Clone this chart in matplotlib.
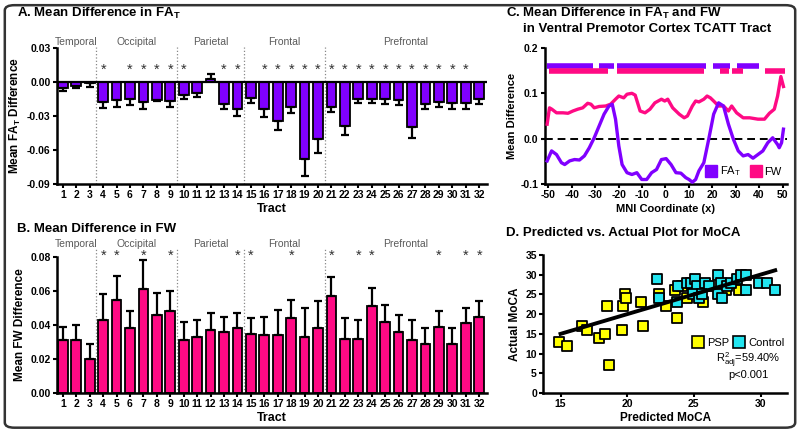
import numpy as np
import matplotlib.pyplot as plt
from matplotlib.patches import FancyBboxPatch
from matplotlib.lines import Line2D

plt.rcParams['font.family'] = ['Liberation Sans', 'DejaVu Sans']
plt.rcParams['mathtext.fontset'] = 'custom'
plt.rcParams['mathtext.rm'] = 'Liberation Sans'
plt.rcParams['mathtext.bf'] = 'Liberation Sans:bold'
plt.rcParams['mathtext.default'] = 'regular'
plt.rcParams['axes.unicode_minus'] = False

# ---- data ----
tracts = np.arange(1, 33)
regions = ['Temporal', 'Occipital', 'Parietal', 'Frontal', 'Prefrontal']
region_start = [1, 4, 10, 15, 21]
region_end = [3, 9, 14, 20, 32]

fa_mean = [-0.005, -0.0035, -0.001, -0.0176, -0.016, -0.0153, -0.0176, -0.0156,
           -0.0168, -0.0118, -0.0094, 0.003, -0.0194, -0.0238, -0.0138, -0.0238,
           -0.034, -0.022, -0.068, -0.0506, -0.0218, -0.0388, -0.0147, -0.015,
           -0.015, -0.016, -0.040, -0.0197, -0.0174, -0.0182, -0.0182, -0.0153]
fa_err = [0.003, 0.002, 0.003, 0.005, 0.006, 0.005, 0.006, 0.001,
          0.005, 0.003, 0.004, 0.004, 0.004, 0.0065, 0.005, 0.007,
          0.008, 0.005, 0.015, 0.012, 0.005, 0.008, 0.0035, 0.0035,
          0.004, 0.0045, 0.009, 0.0045, 0.005, 0.0056, 0.0053, 0.0044]
fa_stars = [4, 6, 7, 8, 9, 10, 13, 14, 16, 17, 18, 19, 20, 21, 22, 23, 24, 25,
            26, 27, 28, 29, 30, 31]

fw_mean = [0.031, 0.031, 0.020, 0.043, 0.055, 0.038, 0.061, 0.046,
           0.048, 0.031, 0.033, 0.037, 0.036, 0.038, 0.035, 0.034,
           0.034, 0.044, 0.033, 0.038, 0.057, 0.032, 0.032, 0.051,
           0.042, 0.036, 0.031, 0.029, 0.039, 0.029, 0.041, 0.045]
fw_err = [0.008, 0.009, 0.009, 0.015, 0.014, 0.010, 0.017, 0.013,
          0.012, 0.011, 0.010, 0.010, 0.009, 0.009, 0.009, 0.011,
          0.015, 0.011, 0.017, 0.016, 0.011, 0.012, 0.011, 0.011,
          0.010, 0.010, 0.012, 0.009, 0.009, 0.009, 0.009, 0.009]
fw_stars = [4, 5, 7, 9, 14, 15, 18, 21, 23, 24, 29, 31, 32]

# panel C: profile along the tract
mni_x = [-50.5, -49.5, -48.5, -46.5, -43.7, -41.6, -39.5, -37.4, -35.3, -33.2,
         -31.8, -30.4, -28.3, -25.5, -23.4, -21.3, -19.9, -17.8, -16.4, -14.3,
         -12.9, -10.8, -8.7, -6.6, -4.5, -1.7, -0.3, 1.0, 3.1, 5.9,
         8.0, 9.4, 11.5, 12.9, 14.3, 16.4, 17.8, 19.2, 20.6, 22.7,
         24.8, 26.9, 28.3, 30.4, 33.2, 36.0, 39.5, 42.3, 44.4, 46.5,
         47.9, 49.3, 50.4]
fw_profile = [0.032, 0.068, 0.065, 0.057, 0.057, 0.056, 0.061, 0.065, 0.068, 0.078,
              0.076, 0.068, 0.071, 0.072, 0.076, 0.087, 0.094, 0.090, 0.098, 0.100,
              0.096, 0.061, 0.057, 0.065, 0.079, 0.087, 0.083, 0.087, 0.068, 0.054,
              0.046, 0.050, 0.072, 0.083, 0.081, 0.087, 0.094, 0.090, 0.083, 0.072,
              0.072, 0.061, 0.072, 0.057, 0.046, 0.046, 0.043, 0.043, 0.056, 0.065,
              0.094, 0.137, 0.115]
fa_x = [-50.5, -48.6, -46.5, -44.4, -43.0, -40.9, -38.8, -36.7, -34.6, -32.5,
        -30.4, -28.3, -26.2, -24.1, -22.7, -21.3, -19.9, -18.5, -16.4, -14.3,
        -12.2, -10.1, -8.0, -5.9, -3.8, -1.7, 0.3, 2.4, 4.5, 6.6,
        8.7, 10.1, 11.5, 12.9, 14.3, 16.4, 18.5, 20.6, 22.7, 24.8,
        26.9, 29.0, 31.1, 33.2, 35.3, 37.4, 39.5, 41.6, 43.7, 45.8,
        47.9, 48.6, 49.6, 50.4]
fa_profile = [-0.049, -0.027, -0.035, -0.053, -0.057, -0.049, -0.046, -0.047, -0.038, -0.020,
              0.002, 0.028, 0.054, 0.072, 0.076, 0.043, -0.016, -0.057, -0.075, -0.079,
              -0.075, -0.090, -0.090, -0.075, -0.068, -0.046, -0.044, -0.057, -0.075, -0.076,
              -0.086, -0.090, -0.096, -0.090, -0.071, -0.053, -0.001, 0.054, 0.079, 0.072,
              0.032, -0.001, -0.027, -0.038, -0.035, -0.043, -0.035, -0.027, -0.009, 0.002,
              -0.013, -0.020, -0.009, 0.021]
fa_sig_start = [-50.5, -28.5, -20.5, 20.5, 30.5]
fa_sig_end = [-31.0, -22.0, 17.5, 27.5, 40.0]
fw_sig_start = [-49.5, -20.5, 23.5, 28.5, 42.5]
fw_sig_end = [-24.5, 16.5, 27.0, 33.0, 51.0]

# panel D: predicted vs actual MoCA
psp_pred = [14.9, 15.5, 16.6, 17.0, 17.9, 18.3, 18.5, 18.6, 19.6, 19.7, 19.8, 19.9,
            21.0, 21.2, 22.4, 22.9, 23.6, 23.7, 24.1, 24.5, 25.3, 25.7, 27.4, 28.4]
psp_actual = [13, 12, 17, 16, 14, 15, 22, 7, 16, 22, 25, 24,
              23, 17, 25, 22, 26, 19, 27, 24, 26, 23, 26, 26]
ctl_pred = [22.2, 22.4, 23.7, 23.8, 24.5, 24.8, 25.1, 25.2, 24.9, 25.4, 25.8, 26.1, 25.6,
            26.8, 26.8, 27.0, 27.1, 27.5, 27.8, 28.2, 28.5, 28.9, 28.9, 29.9, 30.5, 31.1]
ctl_actual = [29, 24, 23, 27, 28, 28, 29, 27, 25, 24, 28, 27, 25,
              30, 25, 28, 24, 27, 28, 29, 30, 30, 26, 28, 28, 26]
fit_x = [15, 31.1]
fit_y = [15, 31.1]

purple = '#8000FF'
pink = '#FF0A84'
gray = '#5a5a5a'

fig = plt.figure(figsize=(8, 4.32), dpi=100)

box = FancyBboxPatch((0.006, 0.01), 0.988, 0.978, boxstyle='round,pad=0,rounding_size=0.012',
                     transform=fig.transFigure, fill=False, edgecolor='#333333', lw=1.8)
fig.patches.append(box)


def style_axes(ax):
    for s in ['top', 'right']:
        ax.spines[s].set_visible(False)
    for s in ['left', 'bottom']:
        ax.spines[s].set_linewidth(1.8)
    ax.tick_params(width=1.5, length=3, labelsize=7.5, pad=1.5)
    for lab in ax.get_yticklabels() + ax.get_xticklabels():
        lab.set_fontweight('bold')


def bar_panel(ax, vals, errs, stars, color, ylim, yticks, star_y, reg_y):
    vals = np.array(vals)
    errs = np.array(errs)
    ax.bar(tracts, vals, width=0.72, color=color, edgecolor='black', lw=1.3, zorder=2)
    lower = np.where(vals < 0, errs, 0)
    upper = np.where(vals >= 0, errs, 0)
    ax.errorbar(tracts, vals, yerr=[lower, upper], fmt='none', ecolor='black',
                elinewidth=1.6, capsize=2.8, capthick=1.6, zorder=3)
    ax.set_xlim(0.55, 32.6)
    ax.set_ylim(*ylim)
    ax.set_yticks(yticks)
    ax.set_yticklabels(['%.2f' % t for t in yticks])
    ax.set_xticks(tracts)
    ax.set_xticklabels([str(t) for t in tracts], family=['Liberation Sans Narrow', 'Liberation Sans'])
    for t in stars:
        ax.text(t, star_y, '*', ha='center', va='center', fontsize=10.5, color='#333333')
    for name, a, b in zip(regions, region_start, region_end):
        ax.text((a + b) / 2, reg_y, name, ha='center', va='bottom', fontsize=7.5, color=gray)
        if a > 1:
            ax.plot([a - 0.5, a - 0.5], [ylim[0], reg_y], ls=':', color='#888888', lw=0.9,
                    clip_on=False, zorder=1)
    style_axes(ax)
    ax.set_xlabel('Tract', fontsize=9, fontweight='bold', labelpad=2)


# ---- A ----
axA = fig.add_axes([0.071, 0.574, 0.538, 0.315])
bar_panel(axA, fa_mean, fa_err, fa_stars, purple, (-0.09, 0.03),
          [-0.09, -0.06, -0.03, 0.0, 0.03], 0.0105, 0.0305)
axA.axhline(0, color='black', lw=1.6, zorder=4)
axA.set_ylabel('Mean FA$_\\mathbf{T}$ Difference', fontsize=8.5, fontweight='bold', labelpad=3)
fig.text(0.021, 0.968, 'A. Mean Difference in FA$_\\mathbf{T}$', fontsize=9.5, fontweight='bold',
         va='center')

# ---- B ----
axB = fig.add_axes([0.071, 0.090, 0.538, 0.315])
bar_panel(axB, fw_mean, fw_err, fw_stars, pink, (0, 0.08),
          [0.0, 0.02, 0.04, 0.06, 0.08], 0.0805, 0.0845)
axB.set_ylabel('Mean FW Difference', fontsize=8.5, fontweight='bold', labelpad=3)
fig.text(0.021, 0.47, 'B. Mean Difference in FW', fontsize=9.5, fontweight='bold', va='center')

# ---- C ----
axC = fig.add_axes([0.681, 0.574, 0.303, 0.315])
axC.plot(mni_x, fw_profile, color=pink, lw=2.4, zorder=3)
axC.plot(fa_x, fa_profile, color=purple, lw=2.4, zorder=3)
axC.axhline(0, color='black', lw=1.4, ls=(0, (4, 2.5)), zorder=2)
axC.hlines([0.161] * len(fa_sig_start), fa_sig_start, fa_sig_end, color=purple, lw=4)
axC.hlines([0.150] * len(fw_sig_start), fw_sig_start, fw_sig_end, color=pink, lw=4)
axC.set_xlim(-51.5, 52)
axC.set_ylim(-0.1, 0.2)
axC.set_xticks(np.arange(-50, 51, 10))
axC.set_yticks([-0.1, 0.0, 0.1, 0.2])
axC.set_yticklabels(['%.1f' % t for t in [-0.1, 0.0, 0.1, 0.2]])
style_axes(axC)
axC.set_xlabel('MNI Coordinate (x)', fontsize=8, fontweight='bold', labelpad=3)
axC.set_ylabel('Mean Difference', fontsize=8, fontweight='bold', labelpad=3)
hC = [Line2D([], [], ls='none', marker='s', ms=9, mfc=purple, mec=purple),
      Line2D([], [], ls='none', marker='s', ms=9, mfc=pink, mec=pink)]
axC.legend(hC, ['FA$_T$', 'FW'], ncol=2, loc='lower right', frameon=False, fontsize=8,
           handlelength=1, handletextpad=0.3, columnspacing=0.8, borderaxespad=0.1)
fig.text(0.632, 0.968, 'C. Mean Difference in FA$_\\mathbf{T}$ and FW', fontsize=9.5,
         fontweight='bold', va='center')
fig.text(0.654, 0.933, 'in Ventral Premotor Cortex TCATT Tract', fontsize=9.5,
         fontweight='bold', va='center')

# ---- D ----
axD = fig.add_axes([0.679, 0.090, 0.305, 0.320])
axD.scatter(psp_pred, psp_actual, marker='s', s=50, color='#FFFF00', edgecolor='black',
            lw=1.3, zorder=3)
axD.scatter(ctl_pred, ctl_actual, marker='s', s=50, color='#22E5F0', edgecolor='black',
            lw=1.3, zorder=3)
axD.plot(fit_x, fit_y, color='black', lw=2.8, zorder=4)
axD.set_xlim(13.7, 32)
axD.set_ylim(0, 35)
axD.set_xticks([15, 20, 25, 30])
axD.set_yticks(np.arange(0, 36, 5))
style_axes(axD)
axD.set_xlabel('Predicted MoCA', fontsize=8.5, fontweight='bold', labelpad=2)
axD.set_ylabel('Actual MoCA', fontsize=8.5, fontweight='bold', labelpad=3)
hD = [Line2D([], [], ls='none', marker='s', ms=9, mfc='#FFFF00', mec='black', mew=1.2),
      Line2D([], [], ls='none', marker='s', ms=9, mfc='#22E5F0', mec='black', mew=1.2)]
axD.legend(hD, ['PSP', 'Control'], ncol=2, loc='center right', bbox_to_anchor=(1.03, 0.36),
           frameon=False, fontsize=8, handlelength=1, handletextpad=0.3, columnspacing=0.4)
axD.text(0.84, 0.24, 'R$_{adj}^{2}$=59.40%', transform=axD.transAxes, ha='center',
         va='center', fontsize=8)
axD.text(0.84, 0.13, 'p<0.001', transform=axD.transAxes, ha='center', va='center', fontsize=8)
fig.text(0.632, 0.46, 'D. Predicted vs. Actual Plot for MoCA', fontsize=9.5, fontweight='bold',
         va='center')

fig.savefig('out.png', dpi=100)
